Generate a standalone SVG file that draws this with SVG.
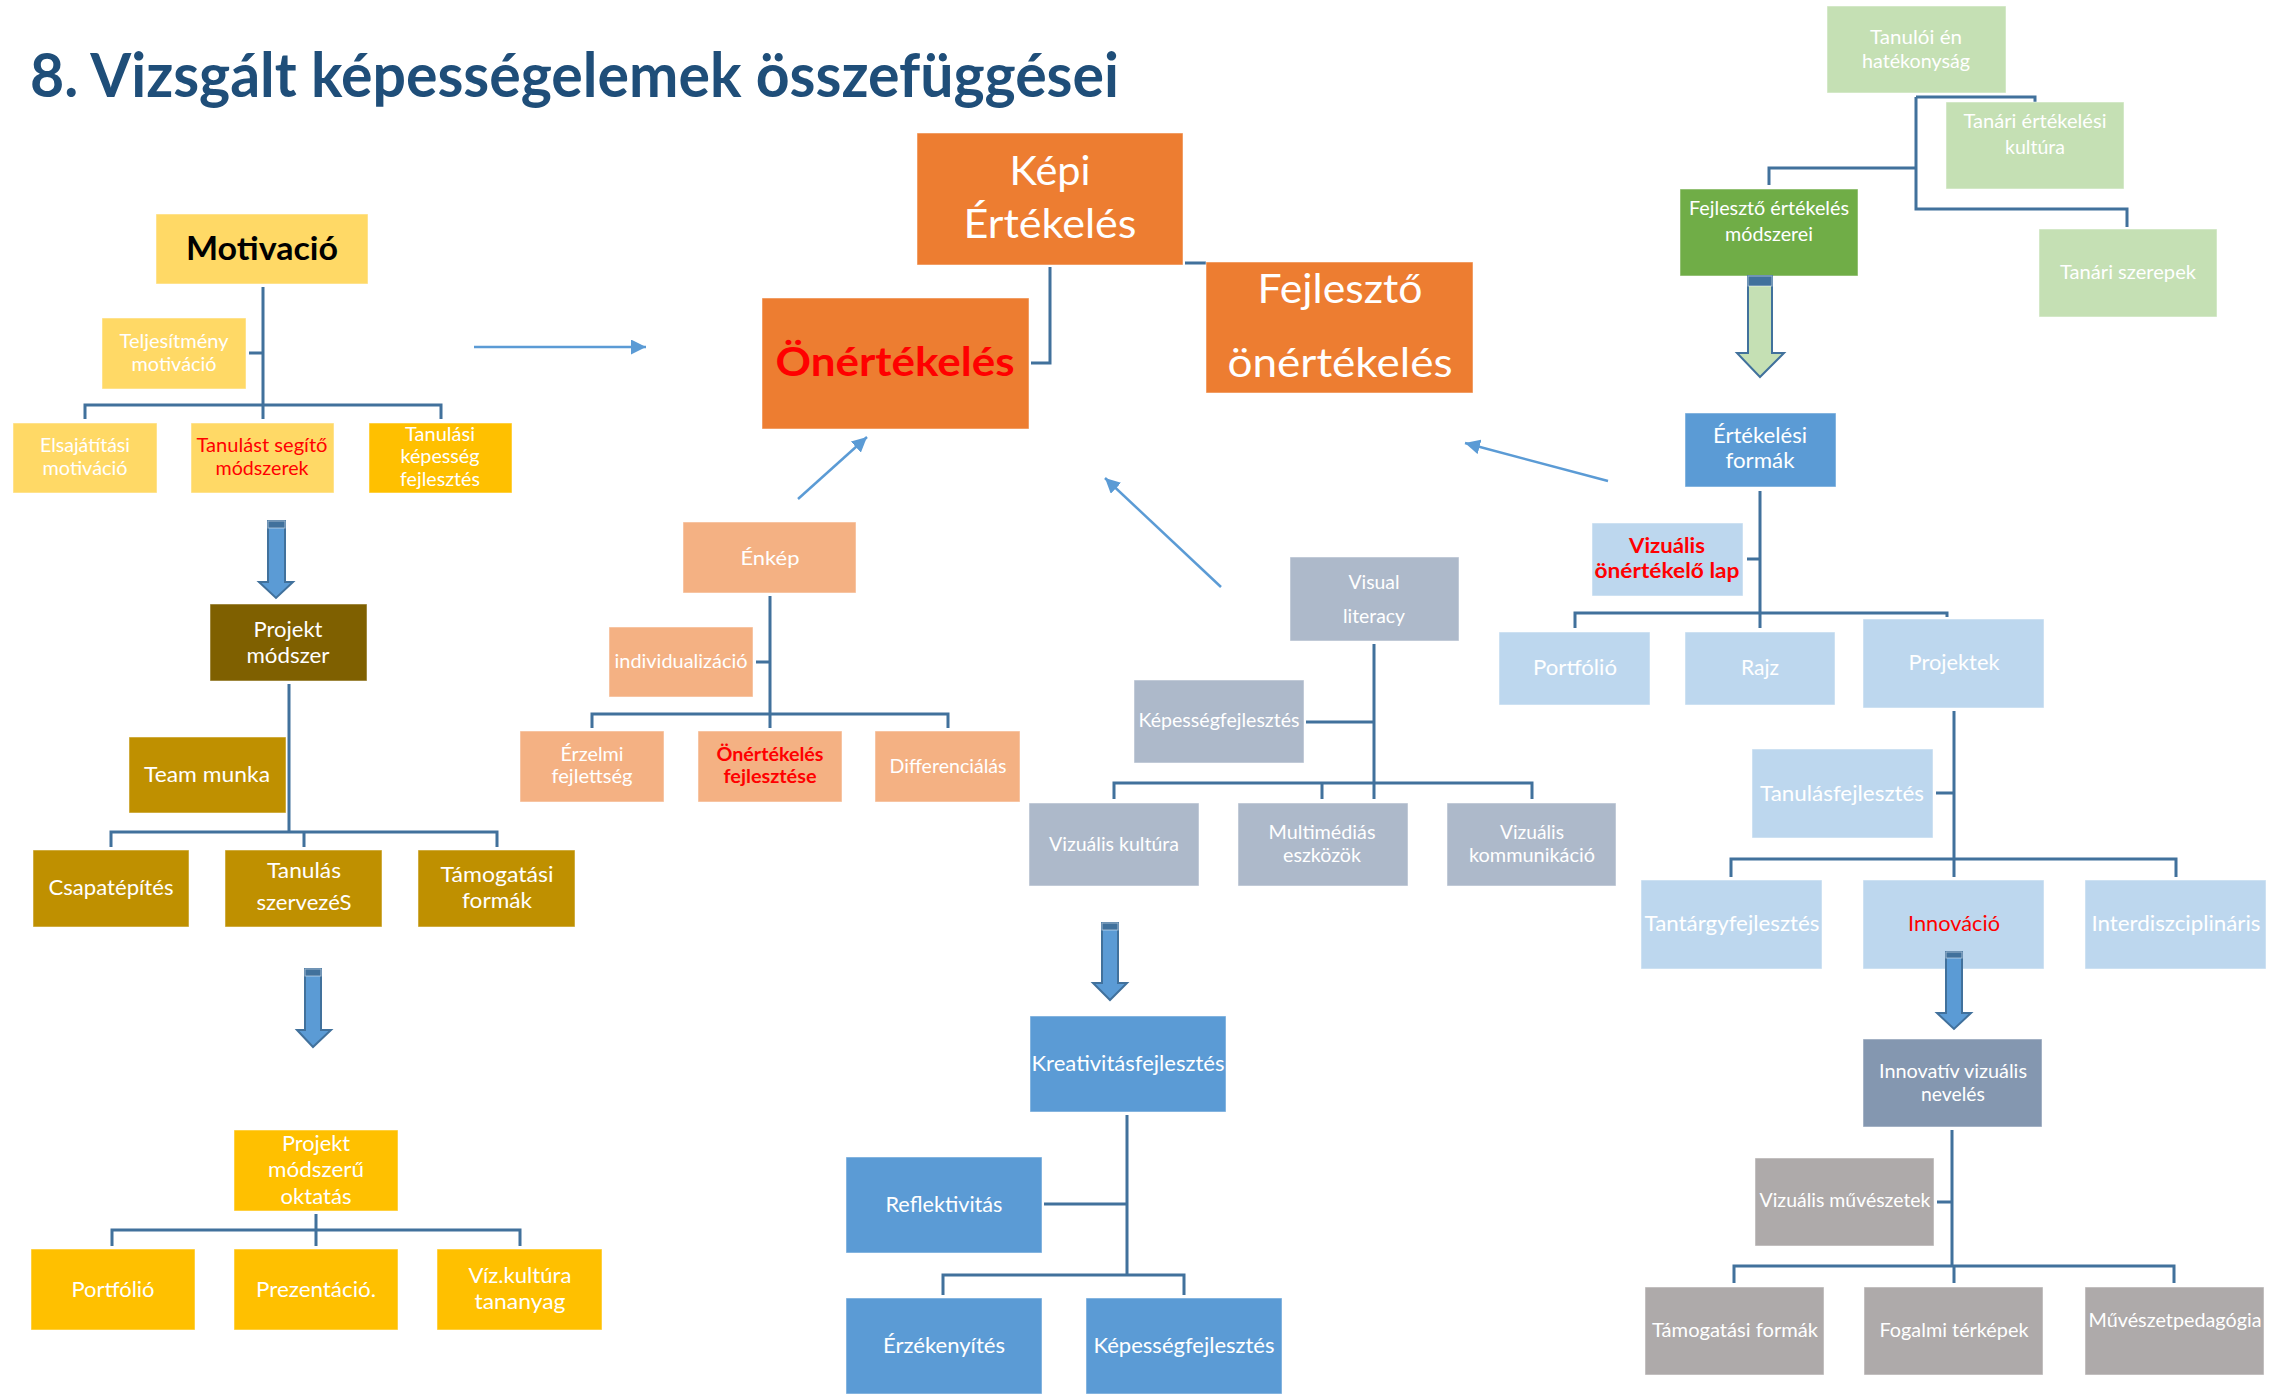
<svg xmlns="http://www.w3.org/2000/svg" width="2280" height="1394" viewBox="0 0 2280 1394">
<style>
text{font-family:Lato,"Open Sans","Liberation Sans",sans-serif;text-anchor:middle;fill:#fff;lengthAdjust:spacingAndGlyphs}
.s19{font-size:19px}.s21{font-size:21.5px}.s41{font-size:41px}
.red{fill:#FF0000}.b{font-weight:bold}
.c{fill:none;stroke:#41719C;stroke-width:3}
.a{fill:none;stroke:#5B9BD5;stroke-width:2.5;marker-end:url(#ah)}
.ba{fill:#5B9BD5;stroke:#41719C;stroke-width:2}
.cap{fill:#41719C}
.y1{fill:#FFD966}.y2{fill:#FFC000}.br1{fill:#7F6000}.br2{fill:#BF9000}
.or{fill:#ED7D31}.sa{fill:#F4B183}.gb{fill:#ADB9CA}.gb2{fill:#8497B0}
.bl{fill:#5B9BD5}.lb{fill:#BDD7EE}.gl{fill:#C5E0B4}.gd{fill:#70AD47}.gr{fill:#AEAAAA}
rect{stroke:#ffffff;stroke-opacity:0.5;stroke-width:1}
</style>
<defs>
<marker id="ah" markerWidth="6" markerHeight="6" refX="6" refY="3" orient="auto" markerUnits="strokeWidth">
<path d="M0,0 L6,3 L0,6 z" fill="#5B9BD5"/>
</marker>
</defs>
<rect x="0" y="0" width="2280" height="1394" fill="#ffffff" stroke="none"/>
<text x="30" y="97" textLength="1089" lengthAdjust="spacingAndGlyphs" style="font-size:61px;font-weight:bold;fill:#1F4E79;text-anchor:start">8. Vizsgált képességelemek összefüggései</text>

<g id="connectors">
<path class="c" d="M263,287 V419 M85,419 V405 H441 V419 M249,353 H263"/>
<path class="c" d="M289,684 V832 M111,847 V832 H497 V847 M304,832 V847"/>
<path class="c" d="M316,1214 V1246 M112,1246 V1230 H520 V1246"/>
<path class="c" d="M1050,267 V363 H1031 M1185,263 H1206"/>
<path class="c" d="M770,596 V728 M592,728 V714 H948 V728 M756,662 H770"/>
<path class="c" d="M1374,644 V799 M1114,799 V783 H1532 V799 M1322,783 V799 M1306,722 H1374"/>
<path class="c" d="M1916,97 V209 H2127 V227 M1916,97 H2035 V102 M1916,168 H1769 V185"/>
<path class="c" d="M1760,491 V628 M1575,628 V613 H1947 V617 M1747,559 H1760"/>
<path class="c" d="M1954,711 V877 M1731,877 V859 H2176 V877 M1936,793 H1954"/>
<path class="c" d="M1127,1115 V1275 M943,1295 V1275 H1184 V1295 M1044,1204 H1127"/>
<path class="c" d="M1952,1130 V1266 M1734,1283 V1266 H2174 V1283 M1954,1266 V1283 M1937,1202 H1952"/>
<line class="a" x1="474" y1="347" x2="646" y2="347"/>
<line class="a" x1="798" y1="499" x2="867" y2="437"/>
<line class="a" x1="1221" y1="587" x2="1105" y2="478"/>
<line class="a" x1="1608" y1="481" x2="1465" y2="443"/>
</g>

<g id="n-motivacio"><rect class="y1" x="156" y="214" width="212" height="70"/><text x="262" y="260" textLength="152" lengthAdjust="spacingAndGlyphs" class="b" style="font-size:32px;fill:#000">Motivació</text></g>
<g id="n-teljesitmeny"><rect class="y1" x="102" y="318" width="144" height="71"/><text class="s19" x="174" y="348" textLength="109" lengthAdjust="spacingAndGlyphs">Teljesítmény</text><text class="s19" x="174" y="371" textLength="85" lengthAdjust="spacingAndGlyphs">motiváció</text></g>
<g id="n-elsajatitasi"><rect class="y1" x="13" y="423" width="144" height="70"/><text class="s19" x="85" y="452" textLength="90" lengthAdjust="spacingAndGlyphs">Elsajátítási</text><text class="s19" x="85" y="475" textLength="85" lengthAdjust="spacingAndGlyphs">motiváció</text></g>
<g id="n-tanulast"><rect class="y1" x="191" y="423" width="143" height="70"/><text class="s19 red" x="262" y="452" textLength="131" lengthAdjust="spacingAndGlyphs">Tanulást segítő</text><text class="s19 red" x="262" y="475" textLength="93" lengthAdjust="spacingAndGlyphs">módszerek</text></g>
<g id="n-tanulasi"><rect class="y2" x="369" y="423" width="143" height="70"/><text class="s19" x="440" y="441" textLength="70" lengthAdjust="spacingAndGlyphs">Tanulási</text><text class="s19" x="440" y="463" textLength="79" lengthAdjust="spacingAndGlyphs">képesség</text><text class="s19" x="440" y="486" textLength="80" lengthAdjust="spacingAndGlyphs">fejlesztés</text></g>

<g id="n-projekt-modszer"><rect class="br1" x="210" y="604" width="157" height="77"/><text class="s21" x="288" y="637" textLength="69" lengthAdjust="spacingAndGlyphs">Projekt</text><text class="s21" x="288" y="663" textLength="83" lengthAdjust="spacingAndGlyphs">módszer</text></g>
<g id="n-team"><rect class="br2" x="129" y="737" width="157" height="76"/><text class="s21" x="207" y="782" textLength="126" lengthAdjust="spacingAndGlyphs">Team munka</text></g>
<g id="n-csapat"><rect class="br2" x="33" y="850" width="156" height="77"/><text class="s21" x="111" y="895" textLength="125" lengthAdjust="spacingAndGlyphs">Csapatépítés</text></g>
<g id="n-tanulas-szervezes"><rect class="br2" x="225" y="850" width="157" height="77"/><text class="s21" x="304" y="878" textLength="74" lengthAdjust="spacingAndGlyphs">Tanulás</text><text class="s21" x="304" y="910" textLength="95" lengthAdjust="spacingAndGlyphs">szervezéS</text></g>
<g id="n-tamogatasi1"><rect class="br2" x="418" y="850" width="157" height="77"/><text class="s21" x="497" y="882" textLength="113" lengthAdjust="spacingAndGlyphs">Támogatási</text><text class="s21" x="497" y="908" textLength="70" lengthAdjust="spacingAndGlyphs">formák</text></g>

<g id="n-projekt-oktatas"><rect class="y2" x="234" y="1130" width="164" height="81"/><text class="s21" x="316" y="1151" textLength="68" lengthAdjust="spacingAndGlyphs">Projekt</text><text class="s21" x="316" y="1177" textLength="96" lengthAdjust="spacingAndGlyphs">módszerű</text><text class="s21" x="316" y="1204" textLength="71" lengthAdjust="spacingAndGlyphs">oktatás</text></g>
<g id="n-portfolio1"><rect class="y2" x="31" y="1249" width="164" height="81"/><text class="s21" x="113" y="1297" textLength="83" lengthAdjust="spacingAndGlyphs">Portfólió</text></g>
<g id="n-prezentacio"><rect class="y2" x="234" y="1249" width="164" height="81"/><text class="s21" x="316" y="1297" textLength="120" lengthAdjust="spacingAndGlyphs">Prezentáció.</text></g>
<g id="n-vizkultura"><rect class="y2" x="437" y="1249" width="165" height="81"/><text class="s21" x="520" y="1283" textLength="103" lengthAdjust="spacingAndGlyphs">Víz.kultúra</text><text class="s21" x="520" y="1309" textLength="91" lengthAdjust="spacingAndGlyphs">tananyag</text></g>

<g id="n-kepi"><rect class="or" x="917" y="133" width="266" height="132"/><text class="s41" x="1050" y="185" textLength="81" lengthAdjust="spacingAndGlyphs">Képi</text><text class="s41" x="1050" y="238" textLength="173" lengthAdjust="spacingAndGlyphs">Értékelés</text></g>
<g id="n-onertekeles"><rect class="or" x="762" y="298" width="267" height="131"/><text class="b red" x="895" y="376" textLength="239" lengthAdjust="spacingAndGlyphs" style="font-size:40px">Önértékelés</text></g>
<g id="n-fejleszto-on"><rect class="or" x="1206" y="262" width="267" height="131"/><text class="s41" x="1340" y="303" textLength="165" lengthAdjust="spacingAndGlyphs">Fejlesztő</text><text class="s41" x="1340" y="377" textLength="225" lengthAdjust="spacingAndGlyphs">önértékelés</text></g>

<g id="n-enkep"><rect class="sa" x="683" y="522" width="173" height="71"/><text class="s19" x="770" y="565" textLength="59" lengthAdjust="spacingAndGlyphs">Énkép</text></g>
<g id="n-individ"><rect class="sa" x="609" y="627" width="144" height="70"/><text class="s19" x="681" y="668" textLength="133" lengthAdjust="spacingAndGlyphs">individualizáció</text></g>
<g id="n-erzelmi"><rect class="sa" x="520" y="731" width="144" height="71"/><text class="s19" x="592" y="761" textLength="63" lengthAdjust="spacingAndGlyphs">Érzelmi</text><text class="s19" x="592" y="783" textLength="81" lengthAdjust="spacingAndGlyphs">fejlettség</text></g>
<g id="n-onert-fejl"><rect class="sa" x="698" y="731" width="144" height="71"/><text class="s19 b red" x="770" y="761" textLength="107" lengthAdjust="spacingAndGlyphs">Önértékelés</text><text class="s19 b red" x="770" y="783" textLength="93" lengthAdjust="spacingAndGlyphs">fejlesztése</text></g>
<g id="n-differencialas"><rect class="sa" x="875" y="731" width="145" height="71"/><text class="s19" x="948" y="773" textLength="117" lengthAdjust="spacingAndGlyphs">Differenciálás</text></g>

<g id="n-visual"><rect class="gb" x="1290" y="557" width="169" height="84"/><text class="s19" x="1374" y="589" textLength="51" lengthAdjust="spacingAndGlyphs">Visual</text><text class="s19" x="1374" y="623" textLength="62" lengthAdjust="spacingAndGlyphs">literacy</text></g>
<g id="n-kepessegf1"><rect class="gb" x="1134" y="680" width="170" height="83"/><text class="s19" x="1219" y="727" textLength="161" lengthAdjust="spacingAndGlyphs">Képességfejlesztés</text></g>
<g id="n-vizkult"><rect class="gb" x="1029" y="803" width="170" height="83"/><text class="s19" x="1114" y="851" textLength="130" lengthAdjust="spacingAndGlyphs">Vizuális kultúra</text></g>
<g id="n-multimedias"><rect class="gb" x="1238" y="803" width="170" height="83"/><text class="s19" x="1322" y="839" textLength="107" lengthAdjust="spacingAndGlyphs">Multimédiás</text><text class="s19" x="1322" y="862" textLength="78" lengthAdjust="spacingAndGlyphs">eszközök</text></g>
<g id="n-vizkomm"><rect class="gb" x="1447" y="803" width="169" height="83"/><text class="s19" x="1532" y="839" textLength="64" lengthAdjust="spacingAndGlyphs">Vizuális</text><text class="s19" x="1532" y="862" textLength="126" lengthAdjust="spacingAndGlyphs">kommunikáció</text></g>

<g id="n-kreativitas"><rect class="bl" x="1030" y="1016" width="196" height="96"/><text class="s21" x="1128" y="1071" textLength="193" lengthAdjust="spacingAndGlyphs">Kreativitásfejlesztés</text></g>
<g id="n-reflektivitas"><rect class="bl" x="846" y="1157" width="196" height="96"/><text class="s21" x="944" y="1212" textLength="117" lengthAdjust="spacingAndGlyphs">Reflektivitás</text></g>
<g id="n-erzekenyites"><rect class="bl" x="846" y="1298" width="196" height="96"/><text class="s21" x="944" y="1353" textLength="122" lengthAdjust="spacingAndGlyphs">Érzékenyítés</text></g>
<g id="n-kepessegf2"><rect class="bl" x="1086" y="1298" width="196" height="96"/><text class="s21" x="1184" y="1353" textLength="181" lengthAdjust="spacingAndGlyphs">Képességfejlesztés</text></g>

<g id="n-tanuloi"><rect class="gl" x="1827" y="6" width="179" height="87"/><text class="s19" x="1916" y="44" textLength="92" lengthAdjust="spacingAndGlyphs">Tanulói én</text><text class="s19" x="1916" y="68" textLength="108" lengthAdjust="spacingAndGlyphs">hatékonyság</text></g>
<g id="n-tanari-kult"><rect class="gl" x="1946" y="102" width="178" height="87"/><text class="s19" x="2035" y="128" textLength="143" lengthAdjust="spacingAndGlyphs">Tanári értékelési</text><text class="s19" x="2035" y="154" textLength="60" lengthAdjust="spacingAndGlyphs">kultúra</text></g>
<g id="n-fejl-ert"><rect class="gd" x="1680" y="189" width="178" height="87"/><text class="s19" x="1769" y="215" textLength="160" lengthAdjust="spacingAndGlyphs">Fejlesztő értékelés</text><text class="s19" x="1769" y="241" textLength="88" lengthAdjust="spacingAndGlyphs">módszerei</text></g>
<g id="n-tanari-szer"><rect class="gl" x="2039" y="229" width="178" height="88"/><text class="s19" x="2128" y="279" textLength="136" lengthAdjust="spacingAndGlyphs">Tanári szerepek</text></g>

<g id="n-ertekelesi"><rect class="bl" x="1685" y="413" width="151" height="74"/><text class="s21" x="1760" y="443" textLength="94" lengthAdjust="spacingAndGlyphs">Értékelési</text><text class="s21" x="1760" y="468" textLength="69" lengthAdjust="spacingAndGlyphs">formák</text></g>
<g id="n-vizonert"><rect class="lb" x="1592" y="523" width="151" height="73"/><text class="s21 b red" x="1667" y="553" textLength="76" lengthAdjust="spacingAndGlyphs">Vizuális</text><text class="s21 b red" x="1667" y="578" textLength="145" lengthAdjust="spacingAndGlyphs">önértékelő lap</text></g>
<g id="n-portfolio2"><rect class="lb" x="1499" y="632" width="151" height="73"/><text class="s21" x="1575" y="675" textLength="84" lengthAdjust="spacingAndGlyphs">Portfólió</text></g>
<g id="n-rajz"><rect class="lb" x="1685" y="632" width="150" height="73"/><text class="s21" x="1760" y="675" textLength="38" lengthAdjust="spacingAndGlyphs">Rajz</text></g>
<g id="n-projektek"><rect class="lb" x="1863" y="619" width="181" height="89"/><text class="s21" x="1954" y="670" textLength="91" lengthAdjust="spacingAndGlyphs">Projektek</text></g>
<g id="n-tanulasf"><rect class="lb" x="1752" y="749" width="181" height="89"/><text class="s21" x="1842" y="801" textLength="164" lengthAdjust="spacingAndGlyphs">Tanulásfejlesztés</text></g>
<g id="n-tantargy"><rect class="lb" x="1641" y="880" width="181" height="89"/><text class="s21" x="1732" y="931" textLength="175" lengthAdjust="spacingAndGlyphs">Tantárgyfejlesztés</text></g>
<g id="n-innovacio"><rect class="lb" x="1863" y="880" width="181" height="89"/><text class="s21 red" x="1954" y="931" textLength="92" lengthAdjust="spacingAndGlyphs">Innováció</text></g>
<g id="n-interdisz"><rect class="lb" x="2085" y="880" width="181" height="89"/><text class="s21" x="2176" y="931" textLength="169" lengthAdjust="spacingAndGlyphs">Interdiszciplináris</text></g>

<g id="n-innovativ"><rect class="gb2" x="1863" y="1039" width="179" height="88"/><text class="s19" x="1953" y="1078" textLength="148" lengthAdjust="spacingAndGlyphs">Innovatív vizuális</text><text class="s19" x="1953" y="1101" textLength="64" lengthAdjust="spacingAndGlyphs">nevelés</text></g>
<g id="n-vizmuv"><rect class="gr" x="1755" y="1158" width="179" height="88"/><text class="s19" x="1845" y="1207" textLength="171" lengthAdjust="spacingAndGlyphs">Vizuális művészetek</text></g>
<g id="n-tamogatasi2"><rect class="gr" x="1645" y="1287" width="179" height="88"/><text class="s19" x="1735" y="1337" textLength="166" lengthAdjust="spacingAndGlyphs">Támogatási formák</text></g>
<g id="n-fogalmi"><rect class="gr" x="1864" y="1287" width="179" height="88"/><text class="s19" x="1954" y="1337" textLength="149" lengthAdjust="spacingAndGlyphs">Fogalmi térképek</text></g>
<g id="n-muvped"><rect class="gr" x="2085" y="1287" width="179" height="88"/><text class="s19" x="2175" y="1327" textLength="173" lengthAdjust="spacingAndGlyphs">Művészetpedagógia</text></g>

<g id="block-arrows">
<path class="ba" d="M268,521 H285 V582 H293 L276,598 L259,582 H268 Z"/><rect class="cap" x="268" y="521" width="17" height="7" stroke="none"/>
<path class="ba" d="M305,969 H321 V1030 H331 L313,1047 L297,1030 H305 Z"/><rect class="cap" x="305" y="969" width="16" height="7" stroke="none"/>
<path class="ba" d="M1102,923 H1118 V983 H1127 L1110,1000 L1093,983 H1102 Z"/><rect class="cap" x="1102" y="923" width="16" height="7" stroke="none"/>
<path class="ba" d="M1946,952 H1962 V1013 H1971 L1954,1029 L1937,1013 H1946 Z"/><rect class="cap" x="1946" y="952" width="16" height="6" stroke="none"/>
<path class="ba" style="fill:#C5E0B4" d="M1748,276 H1772 V353 H1784 L1760,377 L1737,353 H1748 Z"/><rect class="cap" x="1748" y="276" width="24" height="10" stroke="none"/>
</g>
</svg>
